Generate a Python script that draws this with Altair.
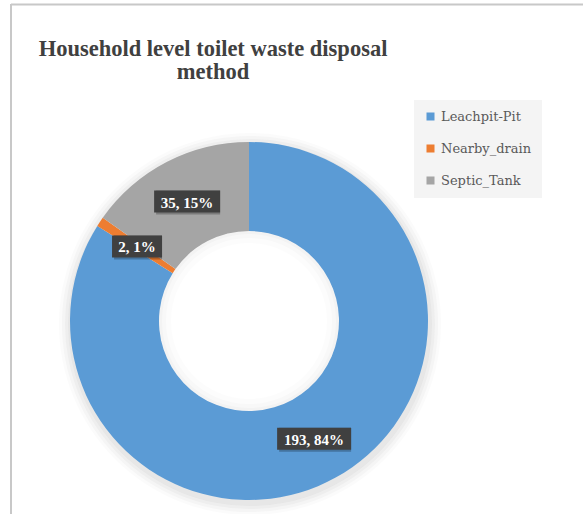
import altair as alt
import pandas as pd

categories = ["Leachpit-Pit", "Nearby_drain", "Septic_Tank"]
counts = [193, 2, 35]
colors = ["#5b9bd5", "#ed7d31", "#a5a5a5"]
title_lines = ["Household level toilet waste disposal", "method"]

df = pd.DataFrame({"category": categories, "count": counts,
                   "order": list(range(len(categories)))})
one = pd.DataFrame({"a": [0]})

SIZE = 358
R_OUT = 179
R_IN = 90
R_LAB = (R_OUT + R_IN) / 2
FONT = "Liberation Serif"
LEG_FONT = "DejaVu Serif"
TWO_PI = 6.2832

base = alt.Chart(df)

color = alt.Color(
    "category:N",
    scale=alt.Scale(domain=categories, range=colors),
    sort=categories,
    legend=alt.Legend(
        title=None, orient="none", legendX=344, legendY=-42,
        fillColor="#f4f4f4", padding=10, symbolType="square", symbolSize=64,
        symbolStrokeWidth=0, labelFont=LEG_FONT, labelFontSize=13,
        labelColor="#595959", labelOffset=4, rowPadding=18,
    ),
)

# soft outer shadow
shadows = []
for k, op in [(12, 0.03), (9, 0.04), (6, 0.05), (3, 0.06)]:
    shadows.append(
        alt.Chart(one).mark_arc(theta=0, theta2=TWO_PI, outerRadius=R_OUT + k,
                                innerRadius=R_OUT - 4, color="#707070", opacity=op)
        .encode(x=alt.value(SIZE / 2 + 1), y=alt.value(SIZE / 2 + 3))
    )

arcs = base.mark_arc(outerRadius=R_OUT, innerRadius=R_IN).encode(
    theta=alt.Theta("count:Q", stack=True),
    order=alt.Order("order:Q"),
    color=color,
)

inner = []
for k, op in [(12, 0.025), (7, 0.03), (3, 0.04)]:
    inner.append(
        alt.Chart(one).mark_arc(theta=0, theta2=TWO_PI, outerRadius=R_IN,
                                innerRadius=R_IN - k, color="#808080", opacity=op)
        .encode(x=alt.value(SIZE / 2), y=alt.value(SIZE / 2))
    )

lab = base.transform_joinaggregate(total="sum(count)").transform_window(
    cum="sum(count)", sort=[alt.SortField("order")]
).transform_calculate(
    mid="(datum.cum - datum.count/2)/datum.total*2*PI",
    lx=f"{R_LAB}*sin(datum.mid)",
    ly=f"{R_LAB}*cos(datum.mid)",
    label="datum.count + ', ' + format(datum.count/datum.total, '.0%')",
    hw="(8*length(datum.label)+10)/2",
    x1="datum.lx - datum.hw",
    x2="datum.lx + datum.hw",
    y1="datum.ly - 11",
    y2="datum.ly + 11",
)

xs = alt.Scale(domain=[-SIZE / 2, SIZE / 2], nice=False, zero=False)
ys = alt.Scale(domain=[-SIZE / 2, SIZE / 2], nice=False, zero=False)

box_shadow = lab.mark_rect(color="black", opacity=0.25, xOffset=2, yOffset=2).encode(
    x=alt.X("x1:Q", scale=xs, axis=None), x2="x2:Q",
    y=alt.Y("y1:Q", scale=ys, axis=None), y2="y2:Q",
)
boxes = lab.mark_rect(color="#404040").encode(
    x=alt.X("x1:Q", scale=xs, axis=None), x2="x2:Q",
    y=alt.Y("y1:Q", scale=ys, axis=None), y2="y2:Q",
)
texts = lab.mark_text(font=FONT, fontWeight="bold", fontSize=15, color="white",
                      align="center", baseline="middle", dy=1).encode(
    x=alt.X("lx:Q", scale=xs, axis=None),
    y=alt.Y("ly:Q", scale=ys, axis=None),
    text="label:N",
)

title = alt.Chart(one).mark_text(
    text=title_lines, font=FONT, fontSize=22.5, fontWeight="bold",
    color="#404040", align="center", baseline="alphabetic", lineHeight=23,
).encode(x=alt.value(143), y=alt.value(-86))

frame_top = alt.Chart(one).mark_rule(color="#c8c8c8", strokeWidth=2).encode(
    x=alt.value(-59), x2=alt.value(SIZE + 200), y=alt.value(-137.5)
)
frame_left = alt.Chart(one).mark_rule(color="#c8c8c8", strokeWidth=2).encode(
    x=alt.value(-59), y=alt.value(-138), y2=alt.value(SIZE + 100)
)

chart = alt.layer(
    *shadows, arcs, *inner, box_shadow, boxes, texts, title, frame_top, frame_left
).properties(
    width=SIZE, height=SIZE,
    padding={"left": 70, "top": 142, "right": 155, "bottom": 14},
    autosize=alt.AutoSizeParams(type="none"),
).configure(background="white").configure_view(stroke="transparent", strokeWidth=0)

chart.save("out.html", embed_options={"renderer": "svg", "actions": False})
